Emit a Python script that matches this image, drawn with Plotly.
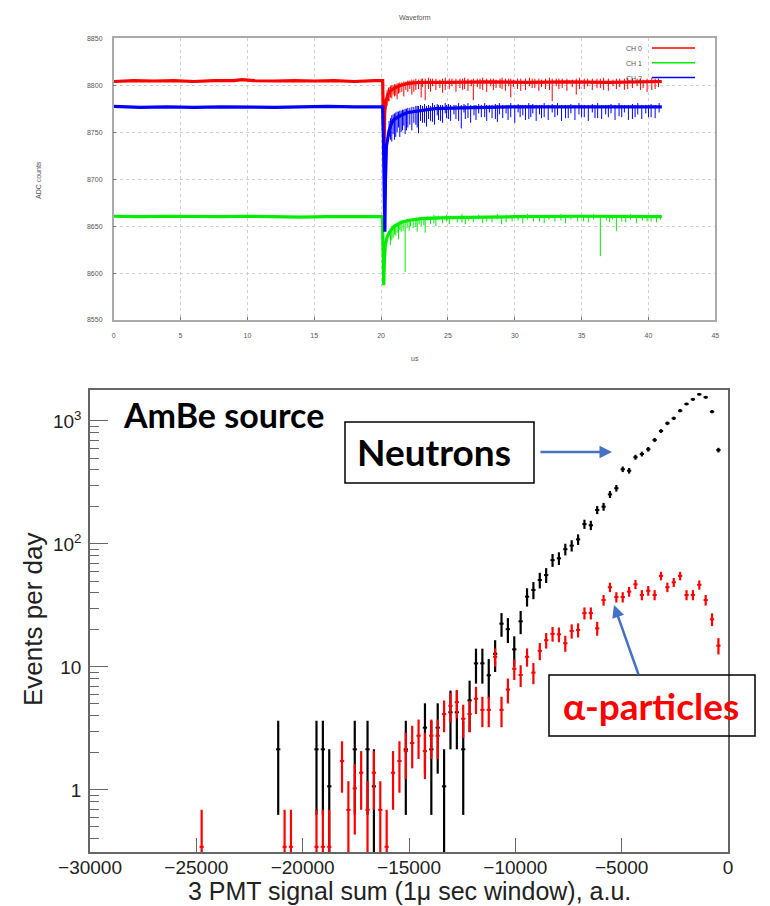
import numpy as np
import plotly.graph_objects as go

# page body has an 8px default margin, so the figure is sized to fit the 770x906 window
OFF = 8
W, H = 770 - OFF, 906 - OFF

# ---------------- Top panel: waveform (ADC counts vs us) ----------------
ch0_t = [0, 1.5, 3, 4.5, 6, 7.5, 9, 9.6, 10.5, 12, 13.5, 15, 16.5, 18, 19.5, 20.12, 20.17, 20.22, 20.27,
         20.35, 20.5, 20.7, 21.0, 21.5, 22.0, 23.0, 25, 28, 31, 34, 37, 39.5, 41]
ch0_v = [8804, 8805, 8804.5, 8805, 8804, 8805, 8805, 8806, 8805, 8804.5, 8805, 8804.5, 8805, 8804, 8805,
         8805, 8760, 8726, 8770, 8782, 8790, 8794, 8797, 8800, 8802, 8803, 8803, 8803.5, 8803, 8803.5,
         8803, 8804, 8804]
ch0_spk_t = [20.45, 20.6, 20.8, 21.0, 21.2, 21.4, 21.7, 22.0, 22.3, 22.6, 23.0, 23.3, 23.7, 24.1, 24.6,
             25.1, 25.6, 26.1, 26.5, 26.9, 27.4, 27.9, 28.4, 28.9, 29.3, 29.7, 30.2, 30.8, 31.3, 31.8,
             32.3, 32.8, 33.3, 33.9, 34.6, 35.2, 35.8, 36.4, 37.0, 37.6, 38.2, 38.8, 39.4, 39.9, 40.5,
             20.55, 20.7, 20.9, 21.1, 21.3, 21.55, 21.85, 22.15, 22.45, 22.8,
             23.1, 23.55, 23.85, 24.4, 24.8, 25.3, 25.9, 26.25, 26.75, 27.2, 27.6, 28.2, 28.6,
             29.05, 29.55, 29.9, 30.45, 31.1, 31.5, 32.0, 32.6, 33.1, 33.55, 34.3, 34.85, 35.45,
             36.15, 36.65, 37.35, 37.85, 38.45, 39.15, 39.6, 40.25, 40.75]
ch0_spk_hi = [8795, 8798, 8800, 8801, 8802, 8803, 8804, 8805, 8806, 8807, 8807, 8807, 8807, 8807, 8807,
              8807, 8807, 8807, 8807, 8807, 8807, 8807, 8807, 8807, 8807, 8807, 8807, 8807, 8807, 8807,
              8807, 8807, 8807, 8807, 8807, 8807, 8807, 8807, 8807, 8807, 8807, 8807, 8807, 8807, 8807,
              8797, 8799, 8800, 8801, 8802, 8803, 8804, 8805, 8806, 8806,
              8807, 8808, 8807, 8806, 8808, 8807, 8807, 8808, 8806, 8807, 8808, 8807, 8806,
              8808, 8807, 8806, 8807, 8808, 8807, 8806, 8808, 8807, 8807, 8806, 8808, 8807,
              8807, 8808, 8806, 8807, 8808, 8807, 8806, 8808, 8807]
ch0_spk_lo = [8778, 8783, 8786, 8788, 8785, 8792, 8788, 8793, 8790, 8795, 8787, 8784, 8793, 8795, 8792,
              8796, 8793, 8795, 8794, 8784, 8796, 8793, 8795, 8797, 8794, 8787, 8796, 8795, 8797, 8794,
              8796, 8783, 8796, 8794, 8790, 8796, 8795, 8797, 8794, 8796, 8795, 8797, 8795, 8793, 8796,
              8783, 8787, 8790, 8789, 8791, 8793, 8795, 8796, 8793, 8796,
              8798, 8796, 8799, 8797, 8795, 8799, 8797, 8796, 8799, 8798, 8795, 8799, 8797,
              8796, 8799, 8798, 8794, 8799, 8797, 8798, 8795, 8799, 8797, 8798, 8796, 8799,
              8797, 8795, 8799, 8798, 8796, 8799, 8797, 8795, 8798]

ch1_t = [0, 2, 4, 6, 8, 10, 12, 14, 16, 18, 20.1, 20.15, 20.2, 20.25, 20.32, 20.45, 20.6, 20.8, 21, 21.5,
         22, 23, 25, 30, 35, 41]
ch1_v = [8660.5, 8660, 8660.5, 8660, 8660, 8660.5, 8660, 8659.5, 8660, 8660, 8660, 8625, 8587, 8615, 8630,
         8638, 8643, 8647, 8650, 8654, 8656, 8658, 8659, 8660, 8660.5, 8660]
ch1_spk_t = [20.7, 20.9, 21.1, 21.3, 21.5, 21.8, 22.1, 22.4, 22.7, 23.0, 23.3, 23.7, 24.1, 24.6, 25.1,
             25.7, 26.3, 26.9, 27.6, 28.3, 29.0, 29.8, 30.6, 31.4, 32.2, 33.0, 33.8, 34.7, 35.5, 36.4,
             37.1, 37.6, 38.3, 39.1, 39.9, 40.6,
             20.8, 21.0, 21.2, 21.4, 21.65, 21.95, 22.2, 22.6, 22.85, 23.2, 23.5, 23.95, 24.3,
             24.9, 25.35, 26.05, 26.55, 27.3, 27.9, 28.7, 29.35, 30.25, 30.95, 31.85, 32.55, 33.45,
             34.2, 35.15, 35.9, 36.85, 37.3, 38.0, 38.65, 39.55, 40.2, 40.9]
ch1_spk_hi = [8648, 8650, 8652, 8653, 8654, 8656, 8657, 8658, 8659, 8660, 8660, 8660, 8661, 8661, 8661,
              8661, 8661, 8661, 8661, 8661, 8661, 8661, 8661, 8661, 8661, 8661, 8661, 8661, 8661, 8661,
              8661, 8661, 8661, 8661, 8661, 8661,
              8649, 8651, 8652, 8653, 8655, 8656, 8657, 8658, 8659, 8660, 8661, 8662, 8661,
              8662, 8661, 8663, 8661, 8662, 8661, 8663, 8662, 8661, 8663, 8661, 8662, 8663,
              8661, 8662, 8663, 8661, 8662, 8661, 8663, 8662, 8661, 8662]
ch1_spk_lo = [8630, 8637, 8640, 8636, 8644, 8601, 8645, 8648, 8644, 8650, 8643, 8652, 8650, 8653, 8652,
              8654, 8652, 8654, 8653, 8654, 8652, 8655, 8653, 8655, 8653, 8655, 8653, 8655, 8654, 8618,
              8654, 8645, 8654, 8653, 8655, 8654,
              8635, 8641, 8643, 8646, 8645, 8648, 8650, 8649, 8652, 8651, 8656, 8653, 8657,
              8655, 8657, 8654, 8656, 8657, 8655, 8657, 8654, 8656, 8657, 8655, 8657, 8656,
              8657, 8655, 8657, 8656, 8657, 8655, 8657, 8656, 8655, 8657]

ch2_t = [0, 2, 4, 6, 8, 10, 12, 14, 16, 18, 20.12, 20.18, 20.23, 20.28, 20.33, 20.4, 20.6, 20.8, 21, 21.5,
         22, 23, 24, 26, 30, 35, 41]
ch2_v = [8777.5, 8776.5, 8777, 8776.5, 8777, 8776.5, 8776.5, 8777, 8777.5, 8777, 8777, 8740, 8660, 8644,
         8700, 8735, 8752, 8760, 8764, 8768, 8771, 8773, 8775, 8776, 8777, 8777, 8777]
ch2_spk_t = [20.6, 20.8, 21.0, 21.2, 21.4, 21.6, 21.8, 22.0, 22.3, 22.6, 22.8, 23.1, 23.4, 23.7, 24.0,
             24.3, 24.6, 24.9, 25.2, 25.6, 26.0, 26.3, 26.7, 27.1, 27.5, 27.9, 28.3, 28.7, 29.1, 29.5,
             30.0, 30.4, 30.8, 31.2, 31.6, 32.0, 32.5, 33.0, 33.5, 34.0, 34.5, 35.0, 35.5, 36.0, 36.5,
             37.0, 37.5, 38.0, 38.5, 39.0, 39.5, 40.0, 40.5,
             20.7, 20.9, 21.1, 21.3, 21.5, 21.7, 21.9, 22.15, 22.45, 22.7, 22.95, 23.25, 23.55, 23.85,
             24.2, 24.45, 24.8, 25.05, 25.45, 25.8, 26.2, 26.5, 26.95, 27.3, 27.75, 28.1, 28.55, 28.85,
             29.35, 29.7, 30.25, 30.6, 31.05, 31.35, 31.85, 32.2, 32.8, 33.2, 33.8, 34.2, 34.8,
             35.2, 35.8, 36.2, 36.8, 37.2, 37.8, 38.2, 38.8, 39.2, 39.8, 40.2, 40.8]
ch2_spk_hi = [8762, 8768, 8770, 8772, 8773, 8774, 8775, 8776, 8777, 8778, 8778, 8778, 8778, 8778, 8779,
              8779, 8779, 8779, 8779, 8779, 8779, 8779, 8779, 8779, 8779, 8779, 8779, 8779, 8779, 8779,
              8779, 8779, 8779, 8779, 8779, 8779, 8779, 8779, 8779, 8779, 8779, 8779, 8779, 8779, 8779,
              8779, 8779, 8779, 8779, 8779, 8779, 8779, 8779,
              8765, 8769, 8771, 8772, 8773, 8774, 8775, 8776, 8777, 8778, 8779, 8780, 8779, 8781,
              8780, 8779, 8781, 8780, 8779, 8781, 8780, 8781, 8779, 8780, 8781, 8779, 8780, 8781,
              8779, 8781, 8780, 8779, 8781, 8780, 8779, 8781, 8780, 8781, 8779, 8780, 8781,
              8779, 8780, 8781, 8779, 8780, 8781, 8779, 8780, 8781, 8779, 8780, 8781]
ch2_spk_lo = [8745, 8740, 8742, 8750, 8745, 8752, 8748, 8755, 8752, 8758, 8749, 8760, 8756, 8762, 8758,
              8763, 8760, 8765, 8762, 8764, 8754, 8764, 8760, 8763, 8766, 8762, 8765, 8761, 8765, 8763,
              8760, 8766, 8763, 8766, 8762, 8765, 8763, 8766, 8762, 8765, 8763, 8766, 8762, 8765, 8764,
              8766, 8763, 8766, 8763, 8766, 8764, 8766, 8765,
              8742, 8748, 8745, 8755, 8750, 8757, 8752, 8758, 8760, 8755, 8762, 8760, 8764, 8761,
              8768, 8762, 8770, 8764, 8769, 8762, 8771, 8765, 8768, 8770, 8766, 8771, 8764, 8769,
              8770, 8766, 8771, 8768, 8764, 8770, 8769, 8766, 8771, 8768, 8765, 8770, 8769,
              8766, 8771, 8765, 8769, 8770, 8767, 8771, 8764, 8769, 8770, 8766, 8771]

ch_names = ["CH 0", "CH 1", "CH 2"]
ch_colors = ["#ff0000", "#00ee00", "#0000ff"]

wave_xticks = [0, 5, 10, 15, 20, 25, 30, 35, 40, 45]
wave_yticks = [8550, 8600, 8650, 8700, 8750, 8800, 8850]

# ---------------- Bottom panel: spectrum ----------------
neu_x = [-21150, -19350, -19050, -18750, -17550, -16950, -16650, -15150, -14250, -13950, -13650, -13350,
         -13050, -12750, -12450, -12150, -11850, -11550, -11250, -10950, -10650, -10350, -10050, -9750,
         -9450, -9150, -8850, -8550, -8250, -7950, -7650, -7350, -7050, -6750, -6450, -6150, -5850,
         -5550, -5250, -4950, -4650, -4350, -4050, -3750, -3450, -3150, -2850, -2550, -2250, -1950,
         -1650, -1350, -1050, -750, -450]
neu_y = [2.14, 2.14, 2.14, 1.07, 2.14, 2.14, 1.07, 2.14, 3.21, 2.14, 3.21, 1.07,
         4.28, 4.28, 2.14, 5.35, 10.7, 10.7, 8.56, 12.8, 22.5, 20.3, 13.9, 23.5,
         37.3, 42.3, 50.9, 55.9, 74, 76.5, 90.6, 97, 109, 145, 142, 189, 201,
         253, 284, 405, 394, 507, 539, 589, 701, 829, 958, 1051, 1213, 1375,
         1500, 1648, 1559, 1191, 580]
neu_unit = 1.07

alp_x = [-24750, -20850, -20550, -19350, -19050, -18750, -18150, -17850, -17550, -17250, -16950, -16650,
         -16350, -16050, -15750, -15450, -15150, -14850, -14550, -14250, -13950, -13650, -13350, -13050,
         -12750, -12450, -12150, -11850, -11550, -11250, -10950, -10650, -10350, -10050, -9750, -9450,
         -9150, -8850, -8550, -8250, -7950, -7650, -7350, -7050, -6750, -6450, -6150, -5850, -5550,
         -5250, -4950, -4650, -4350, -4050, -3750, -3450, -3150, -2850, -2550, -2250, -1950, -1650,
         -1350, -1050, -750, -450]
alp_y = [0.345, 0.345, 0.345, 0.345, 0.345, 0.345, 1.72, 0.69, 1.03, 1.38, 0.69, 1.38,
         0.69, 0.345, 1.38, 1.72, 2.07, 2.41, 2.76, 2.07, 2.76, 2.76, 4.14, 4.83,
         5.17, 3.79, 4.14, 5.52, 4.48, 4.48, 12.1, 4.48, 6.55, 9.66, 8.6, 12.1,
         9.0, 13.5, 16.5, 18.6, 18.4, 15.6, 19.6, 20.0, 27.4, 27.4, 20.6, 35, 44.5,
         37, 37, 41, 47, 38.5, 41.7, 38.5, 55, 44.5, 48.8, 55, 38.5, 38.5,
         46.5, 35, 24.4, 14.9]
alp_unit = 0.345
bin_half = 100

spec_xticks = [-30000, -25000, -20000, -15000, -10000, -5000, 0]
spec_xtext = ["\u221230000", "\u221225000", "\u221220000", "\u221215000", "\u221210000", "\u22125000", "0"]
spec_yticks = [1, 10, 100, 1000]
spec_ytext = ["1", "10", "10<sup>2</sup>", "10<sup>3</sup>"]
spec_yminor = [0.4, 0.5, 0.6, 0.7, 0.8, 0.9, 2, 3, 4, 5, 6, 7, 8, 9, 20, 30, 40, 50, 60, 70, 80, 90,
               200, 300, 400, 500, 600, 700, 800, 900]


def px(x):
    return (x - OFF) / W


def py(y):
    return 1 - (y - OFF) / H


fig = go.Figure()

# waveform traces
chans = [(ch0_t, ch0_v, ch0_spk_t, ch0_spk_hi, ch0_spk_lo),
         (ch1_t, ch1_v, ch1_spk_t, ch1_spk_hi, ch1_spk_lo),
         (ch2_t, ch2_v, ch2_spk_t, ch2_spk_hi, ch2_spk_lo)]
for (t, v, st, sh, sl), name, col in zip(chans, ch_names, ch_colors):
    fig.add_trace(go.Scatter(x=t, y=v, mode="lines", name=name, line=dict(color=col, width=3.2),
                             showlegend=False, xaxis="x", yaxis="y"))
    sx, sy = [], []
    for a, b, c in zip(st, sh, sl):
        sx += [a, a, None]
        sy += [b, c, None]
    fig.add_trace(go.Scatter(x=sx, y=sy, mode="lines", line=dict(color=col, width=1),
                             showlegend=False, xaxis="x", yaxis="y", hoverinfo="skip"))

# spectrum traces
neu_err = [np.sqrt(v * neu_unit) for v in neu_y]
alp_err = [np.sqrt(v * alp_unit) for v in alp_y]
fig.add_trace(go.Scatter(x=neu_x, y=neu_y, mode="markers", marker=dict(color="black", size=2),
                         error_y=dict(type="data", array=neu_err, color="black", thickness=2.2, width=0),
                         error_x=dict(type="constant", value=bin_half, color="black", thickness=2, width=0),
                         showlegend=False, xaxis="x2", yaxis="y2"))
fig.add_trace(go.Scatter(x=alp_x, y=alp_y, mode="markers", marker=dict(color="#ff0000", size=2),
                         error_y=dict(type="data", array=alp_err, color="#ff0000", thickness=2.2, width=0),
                         error_x=dict(type="constant", value=bin_half, color="#ff0000", thickness=2, width=0),
                         showlegend=False, xaxis="x2", yaxis="y2"))

small = dict(family="Liberation Sans, Arial", size=7, color="#555")
big = dict(family="Liberation Sans, Arial", size=19, color="#222")

fig.update_layout(
    width=W, height=H, margin=dict(l=0, r=0, t=0, b=0, autoexpand=False),
    paper_bgcolor="white", plot_bgcolor="white",
    xaxis=dict(domain=[px(113.7), px(715.3)], range=[0, 45], anchor="y", automargin=False,
               tickmode="array", tickvals=wave_xticks, showgrid=True, gridcolor="#cfcfcf",
               griddash="dot", gridwidth=1, zeroline=False, showline=True, linecolor="#aaa",
               linewidth=1.5, mirror=True, ticks="inside", ticklen=3, tickcolor="#777",
               tickfont=small, ticklabelstandoff=8),
    yaxis=dict(domain=[py(320), py(38.3)], range=[8550, 8850], anchor="x", automargin=False,
               tickmode="array", tickvals=wave_yticks, showgrid=True, gridcolor="#cfcfcf",
               griddash="dot", gridwidth=1, zeroline=False, showline=True, linecolor="#aaa",
               linewidth=1.5, mirror=True, ticks="inside", ticklen=3, tickcolor="#777",
               tickfont=small, ticklabelstandoff=8),
    xaxis2=dict(domain=[px(90), px(728)], range=[-30000, 0], anchor="y2", automargin=False,
                tickmode="array", tickvals=spec_xticks, ticktext=spec_xtext, showgrid=False,
                zeroline=False, showline=True, linecolor="#666", linewidth=1.5, mirror=True,
                ticks="inside", ticklen=14, tickwidth=1.3, tickcolor="#666", tickfont=big,
                ticklabelstandoff=-3),
    yaxis2=dict(domain=[py(852), py(390)], type="log", range=[np.log10(0.313), np.log10(1786)],
                anchor="x2", automargin=False, tickmode="array", tickvals=spec_yticks,
                ticktext=spec_ytext, showgrid=False, zeroline=False, showline=True,
                linecolor="#666", linewidth=1.5, mirror=True, ticks="inside", ticklen=18,
                tickwidth=1.3, tickcolor="#666", tickfont=big, ticklabelstandoff=3,
                minor=dict(tickmode="array", tickvals=spec_yminor, ticks="inside", ticklen=9,
                           tickwidth=1.3, tickcolor="#666", showgrid=False)),
)

ann = []
# top panel texts
ann.append(dict(x=px(415), y=py(17), text="Waveform", font=small))
ann.append(dict(x=px(415), y=py(359), text="us", font=small))
ann.append(dict(x=px(38), y=py(180), text="ADC counts", font=small, textangle=-90))
for i, (name, col) in enumerate(zip(ch_names, ch_colors)):
    yy = 49 + 14.7 * i
    ann.append(dict(x=px(634), y=py(yy), text=name, font=small))
    fig.add_shape(type="line", xref="paper", yref="paper", x0=px(652), x1=px(695), y0=py(yy - 1),
                  y1=py(yy - 1), line=dict(color=col, width=1.5))

# bottom panel texts
ann.append(dict(x=px(409), y=py(891), text="3 PMT signal sum (1\u03bc sec window), a.u.",
                font=dict(family="Liberation Sans, Arial", size=25, color="#222")))
ann.append(dict(x=px(33), y=py(620), text="Events per day", textangle=-90,
                font=dict(family="Liberation Sans, Arial", size=26, color="#222")))
ann.append(dict(x=px(223), y=py(415), text="<b>AmBe source</b>",
                font=dict(family="Lato", size=34, color="black")))
ann.append(dict(x=px(434), y=py(451), text="<b>Neutrons</b>",
                font=dict(family="Lato", size=37, color="black")))
ann.append(dict(x=px(651), y=py(705), text="<b>\u03b1-particles</b>",
                font=dict(family="Lato", size=37, color="#ff0000")))
fig.add_shape(type="rect", xref="paper", yref="paper", x0=px(345), x1=px(534), y0=py(483), y1=py(422),
              line=dict(color="black", width=1.5))
fig.add_shape(type="rect", xref="paper", yref="paper", x0=px(549), x1=px(755), y0=py(736), y1=py(675),
              line=dict(color="black", width=1.5))
ann.append(dict(x=px(612), y=py(452), text="", showarrow=True, ax=-73, ay=0, arrowhead=2,
                arrowsize=1, arrowwidth=2.5, arrowcolor="#4472C4"))
ann.append(dict(x=px(614), y=py(605), text="", showarrow=True, ax=25, ay=71, arrowhead=2,
                arrowsize=1, arrowwidth=2.5, arrowcolor="#4472C4"))

for a in ann:
    a.setdefault("xref", "paper")
    a.setdefault("yref", "paper")
    a.setdefault("showarrow", False)
    a.setdefault("xanchor", "center")
    a.setdefault("yanchor", "middle")
fig.update_layout(annotations=ann)

fig.write_html("out.html")
